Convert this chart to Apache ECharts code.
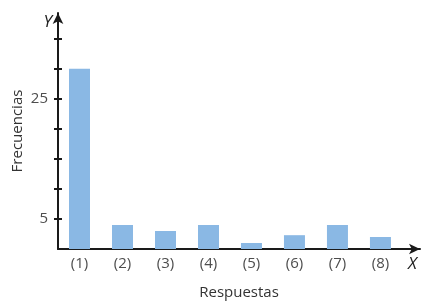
<!DOCTYPE html>
<html>
<head>
<meta charset="utf-8">
<script src="https://cdn.jsdelivr.net/npm/echarts@6/dist/echarts.min.js"></script>
<style>
  html, body { margin: 0; padding: 0; background: #fff; }
  #chart { width: 421px; height: 303px; }
</style>
</head>
<body>
<div id="chart"></div>
<script>
// respuestas 1..8 y sus frecuencias
const categories = ['(1)', '(2)', '(3)', '(4)', '(5)', '(6)', '(7)', '(8)']
const positions = [1, 2, 3, 4, 5, 6, 7, 8]
const frecuencias = [30, 4, 3, 4, 1, 2.3, 4, 2]
const yTicks = [5, 10, 15, 20, 25, 30, 35]
const yLabels = [5, 25]

const axisColor = '#1a1a1a'
const textColor = '#4d4d4d'
const font = 'Open Sans'

const chart = echarts.init(document.getElementById('chart'))

const option = {
  animation: false,
  grid: { left: 58, right: 1, top: 13, bottom: 54, containLabel: false, outerBoundsMode: 'none' },
  xAxis: [
    {
      type: 'value',
      min: 0.5,
      max: 8.92,
      name: 'Respuestas',
      nameLocation: 'middle',
      nameGap: 36,
      nameTextStyle: { color: '#333', fontSize: 15, fontFamily: font },
      axisLine: {
        show: true,
        onZero: false,
        symbol: ['none', 'arrow'],
        symbolSize: [8, 11],
        lineStyle: { color: axisColor, width: 2 }
      },
      axisTick: { show: false },
      splitLine: { show: false },
      axisLabel: {
        customValues: positions,
        formatter: v => categories[positions.indexOf(v)] || '',
        color: textColor,
        fontSize: 15,
        fontFamily: font,
        margin: 7
      }
    },
    {
      type: 'value',
      position: 'bottom',
      min: 0.5,
      max: 8.92,
      name: 'X',
      nameLocation: 'end',
      nameGap: -12,
      nameTextStyle: {
        color: '#222', fontSize: 17, fontStyle: 'italic', fontFamily: font,
        verticalAlign: 'top', padding: [7, 0, 0, 0]
      },
      axisLine: { show: false },
      axisTick: { show: false },
      axisLabel: { show: false },
      splitLine: { show: false }
    }
  ],
  yAxis: [
    {
      type: 'value',
      min: 0,
      max: 39.3,
      name: 'Frecuencias',
      nameLocation: 'middle',
      nameGap: 33,
      nameMoveOverlap: false,
      nameTextStyle: { color: '#333', fontSize: 15, fontFamily: font },
      axisLine: {
        show: true,
        onZero: false,
        symbol: ['none', 'arrow'],
        symbolSize: [8, 11],
        lineStyle: { color: axisColor, width: 2 }
      },
      axisTick: {
        show: true,
        customValues: yTicks,
        length: 4,
        lineStyle: { color: axisColor, width: 2 }
      },
      splitLine: { show: false },
      axisLabel: {
        customValues: yLabels,
        color: textColor,
        fontSize: 15,
        fontFamily: font,
        margin: 10
      }
    },
    {
      type: 'value',
      position: 'left',
      min: 0,
      max: 39.3,
      name: 'Y',
      nameLocation: 'end',
      nameGap: -9,
      nameMoveOverlap: false,
      nameTextStyle: {
        color: '#222', fontSize: 17, fontStyle: 'italic', fontFamily: font,
        align: 'right', verticalAlign: 'middle', padding: [0, 6, 0, 0]
      },
      axisLine: { show: false },
      axisTick: {
        show: true,
        inside: true,
        customValues: yTicks,
        length: 4,
        lineStyle: { color: axisColor, width: 2 }
      },
      axisLabel: { show: false },
      splitLine: { show: false }
    }
  ],
  series: [
    {
      type: 'bar',
      barWidth: 21,
      itemStyle: { color: '#8ab8e4' },
      data: positions.map((p, i) => [p, frecuencias[i]])
    }
  ]
}

chart.setOption(option)
</script>
</body>
</html>
